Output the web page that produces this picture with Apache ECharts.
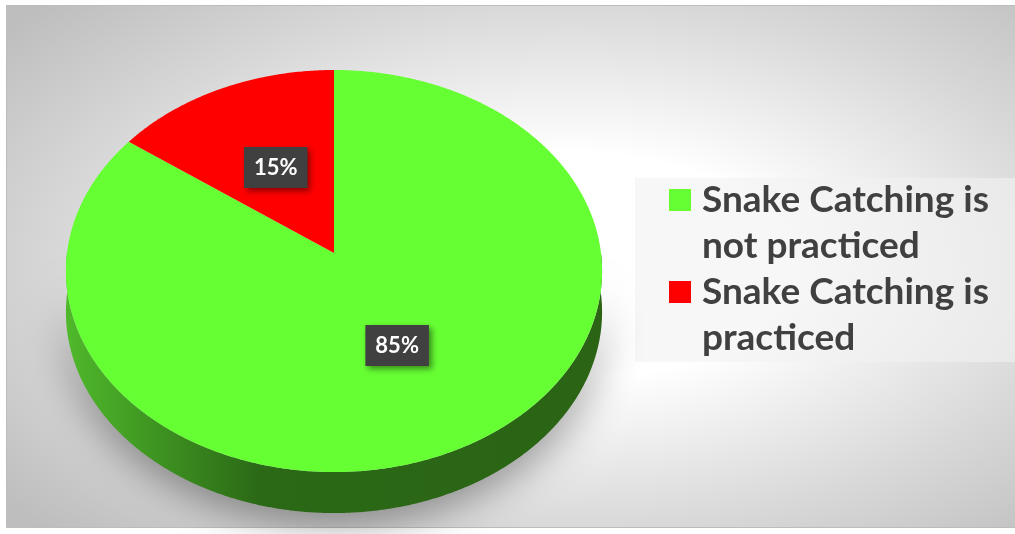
<!DOCTYPE html>
<html><head><meta charset="utf-8">
<script src="https://cdn.jsdelivr.net/npm/echarts@6/dist/echarts.min.js"></script>
<style>html,body{margin:0;padding:0;background:#fff}#c{width:1015px;height:534px}</style>
</head><body><div id="c"></div>
<script>
// ---- data ----
const categories = ['Snake Catching is not practiced', 'Snake Catching is practiced'];
const legendLabels = ['Snake Catching is\nnot practiced', 'Snake Catching is\npracticed'];
const values = [85, 15];

// ---- styles ----
const colors = ['#66ff33', '#ff0000'];
const sideStops = [
  [['#4fb92b', 0], ['#2b6916', 0.36], ['#2a6414', 1]],
  [['#c00000', 0], ['#700000', 0.36], ['#6a0000', 1]]
];
// perspective-projected disc: centre, half-axes, perspective factor, thickness
const CX = 334, CY = 253, AX = 267, BY = 199.4, PK = 0.0897, DEPTH = 41;

const total = values.reduce((a, b) => a + b, 0);
const starts = []; let acc = 0;
values.forEach(v => { starts.push(acc / total); acc += v; });

// angle t measured clockwise from 12 o'clock, f = fraction of radius
function proj(t, f, dy) {
  const u = f * Math.sin(t), v = -f * Math.cos(t);
  const d = 1 - PK * v;
  return [CX + AX * u / d, CY + BY * v / d + (dy || 0)];
}

function sliceRender(i) {
  return function (params, api) {
    const v = api.value(0), s = api.value(1);
    const t1 = s * 2 * Math.PI, t2 = (s + v / total) * 2 * Math.PI;
    const step = Math.PI / 360;
    const N = Math.max(2, Math.ceil((t2 - t1) / step));
    const top = [proj(0, 0)];
    for (let k = 0; k <= N; k++) top.push(proj(t1 + (t2 - t1) * k / N, 1));
    const children = [];
    const a = Math.max(t1, Math.PI / 2), b = Math.min(t2, 3 * Math.PI / 2);
    if (b > a) {
      const M = Math.max(2, Math.ceil((b - a) / step));
      const side = [];
      for (let k = 0; k <= M; k++) side.push(proj(a + (b - a) * k / M, 1));
      for (let k = M; k >= 0; k--) side.push(proj(a + (b - a) * k / M, 1, DEPTH));
      children.push({
        type: 'polygon', z2: 1, shape: { points: side },
        style: {
          fill: { type: 'linear', x: 0, y: 0, x2: 1, y2: 0,
            colorStops: sideStops[i].map(d => ({ color: d[0], offset: d[1] })) },
          shadowBlur: 40, shadowColor: 'rgba(0,0,0,0.45)', shadowOffsetY: 8
        }
      });
    }
    children.push({ type: 'polygon', z2: 5, shape: { points: top }, style: { fill: colors[i] } });
    const lp = proj((t1 + t2) / 2, 0.5);
    children.push({
      type: 'text', z2: 10,
      style: {
        text: Math.round(v / total * 100) + '%', x: lp[0], y: lp[1],
        align: 'center', verticalAlign: 'middle',
        fill: '#ffffff', fontFamily: 'Lato', fontWeight: 'bold', fontSize: 22, lineHeight: 23,
        backgroundColor: '#404040', padding: [9, 10, 9, 10],
        shadowBlur: 6, shadowColor: 'rgba(0,0,0,0.45)', shadowOffsetX: 3, shadowOffsetY: 3
      }
    });
    return { type: 'group', children };
  };
}

const W = 1009, H = 522;
const chart = echarts.init(document.getElementById('c'));
chart.setOption({
  animation: false,
  backgroundColor: '#ffffff',
  graphic: [
    { type: 'rect', x: 6, y: 5, z: -10, scaleY: H / W, silent: true,
      shape: { x: 0, y: 0, width: W, height: W },
      style: { fill: { type: 'radial', x: 0.56, y: 0.5, r: 0.72,
        colorStops: [{ offset: 0, color: '#ffffff' }, { offset: 0.3, color: '#ffffff' },
                     { offset: 0.7, color: '#d8d8d8' }, { offset: 1, color: '#bebebe' }] } } },
    { type: 'rect', z: -9, silent: true, shape: { x: 6.5, y: 5.5, width: W, height: H },
      style: { fill: 'none', stroke: '#bcbcbc', lineWidth: 1 } },
    { type: 'rect', z: -8, silent: true, shape: { x: 635, y: 178, width: 380, height: 184 },
      style: { fill: 'rgba(242,242,242,0.6)' } }
  ],
  legend: {
    data: categories, orient: 'vertical', left: 669, top: 131, padding: 0,
    itemWidth: 22, itemHeight: 22, itemGap: -46, icon: 'rect', selectedMode: false,
    formatter: name => '\n' + legendLabels[categories.indexOf(name)],
    textStyle: { fontFamily: 'Lato', fontWeight: 'bold', fontSize: 37, color: '#404040',
      lineHeight: 46, padding: [0, 0, 0, 6] }
  },
  series: categories.map((name, i) => ({
    type: 'custom', name, coordinateSystem: 'none', silent: true,
    renderItem: sliceRender(i),
    itemStyle: { color: colors[i] },
    data: [[values[i], starts[i]]]
  }))
});
</script></body></html>
